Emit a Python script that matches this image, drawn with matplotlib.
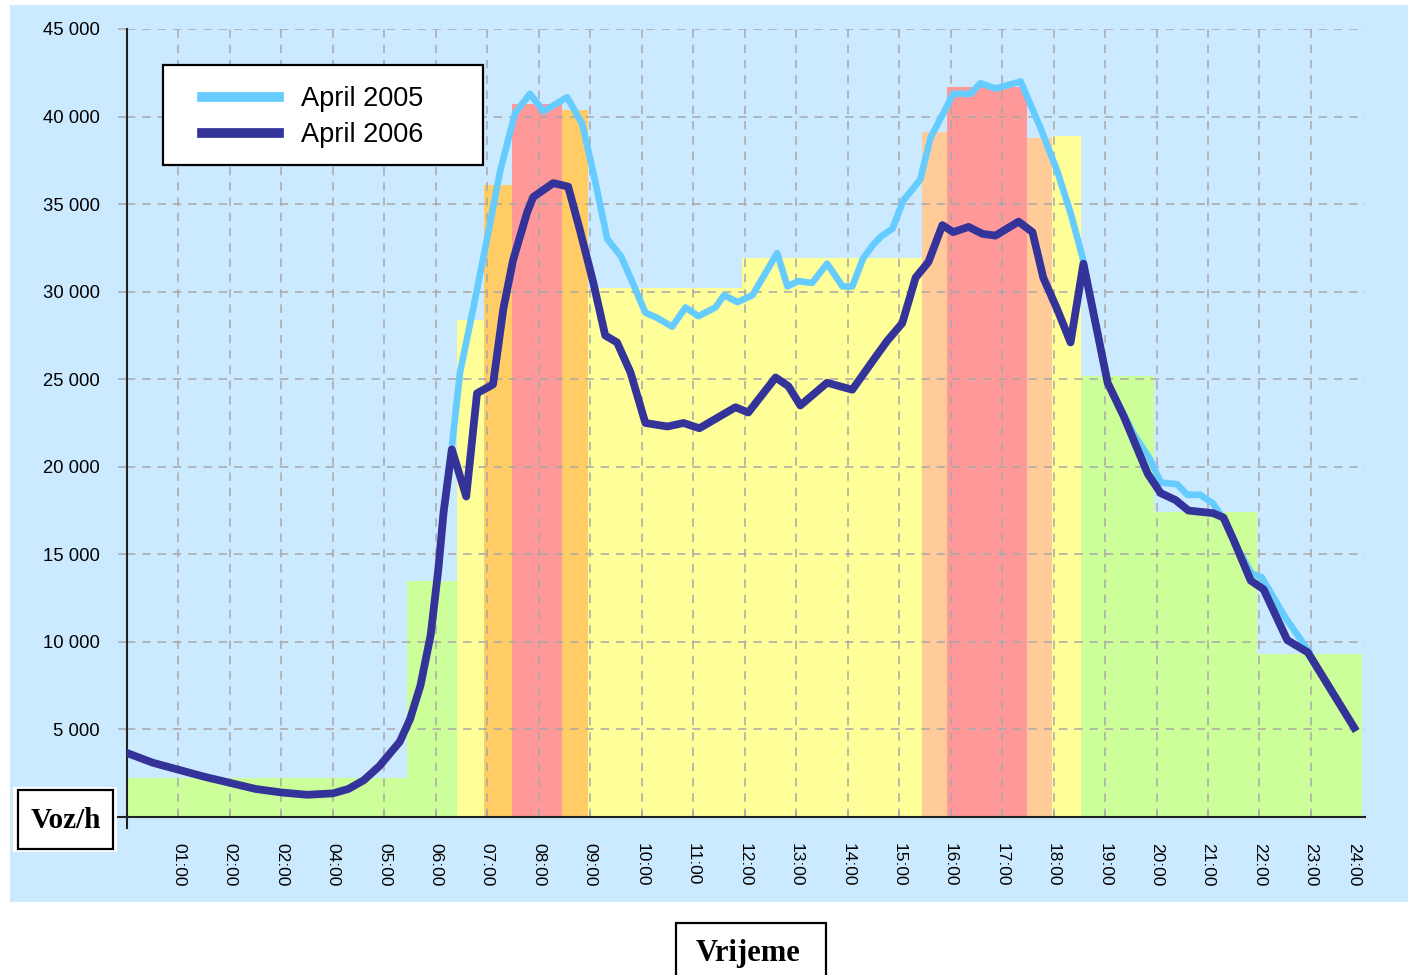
import numpy as np
import matplotlib
matplotlib.use("Agg")
import matplotlib.pyplot as plt
from matplotlib.patches import Rectangle

# traffic bands behind the curves (hours, thousands of vehicles/h)
band_start = [0.0, 5.43, 6.42, 6.93, 7.48, 8.45, 8.96, 11.95, 15.45, 15.93, 17.49, 17.96, 18.54, 19.96, 21.96]
band_end = [5.43, 6.42, 6.93, 7.48, 8.45, 8.96, 11.95, 15.45, 15.93, 17.49, 17.96, 18.54, 19.96, 21.96, 24.0]
band_value = [2.2, 13.5, 28.4, 36.1, 40.7, 40.4, 30.2, 31.9, 39.1, 41.7, 38.8, 38.9, 25.2, 17.4, 9.3]
band_level = ["low", "low", "mid", "high_am", "peak", "high_am", "mid", "mid",
              "high_pm", "peak", "high_pm", "mid", "low", "low", "low"]

# April 2006
t_2006 = [0.05, 0.5, 1.0, 1.5, 2.0, 2.5, 3.0, 3.5, 4.0, 4.3, 4.6, 4.9, 5.1, 5.3, 5.5, 5.7, 5.9,
          6.05, 6.15, 6.31, 6.59, 6.8, 7.11, 7.31, 7.5, 7.77, 7.89, 8.28, 8.57, 8.8, 9.06, 9.29,
          9.52, 9.78, 10.07, 10.5, 10.81, 11.12, 11.47, 11.82, 12.07, 12.6, 12.85, 13.08, 13.6,
          14.09, 14.5, 14.77, 15.06, 15.32, 15.57, 15.84, 16.05, 16.35, 16.62, 16.87, 17.32,
          17.59, 17.8, 18.07, 18.33, 18.58, 19.05, 19.36, 19.83, 20.08, 20.37, 20.62, 21.1,
          21.3, 21.5, 21.83, 22.08, 22.54, 22.94, 23.84]
v_2006 = [3.6, 3.1, 2.7, 2.3, 1.95, 1.6, 1.4, 1.27, 1.35, 1.6, 2.1, 2.9, 3.6, 4.3, 5.6, 7.5, 10.4,
          14.2, 17.4, 21.0, 18.3, 24.2, 24.7, 29.0, 31.8, 34.5, 35.4, 36.2, 36.0, 33.5, 30.5, 27.5,
          27.1, 25.4, 22.5, 22.3, 22.5, 22.2, 22.8, 23.4, 23.1, 25.1, 24.6, 23.5, 24.8,
          24.4, 26.1, 27.2, 28.2, 30.8, 31.7, 33.8, 33.4, 33.7, 33.3, 33.2, 34.0,
          33.4, 30.8, 29.0, 27.1, 31.6, 24.8, 22.9, 19.6, 18.5, 18.1, 17.5, 17.35,
          17.1, 15.8, 13.5, 13.0, 10.1, 9.4, 5.1]

# April 2005
t_2005 = [6.32, 6.47, 6.73, 7.0, 7.25, 7.54, 7.83, 8.09, 8.55, 8.84, 9.06, 9.33, 9.6, 9.78, 10.07,
          10.3, 10.59, 10.85, 11.1, 11.43, 11.6, 11.86, 12.15, 12.63, 12.83, 13.04, 13.31, 13.6,
          13.9, 14.09, 14.3, 14.5, 14.67, 14.87, 15.08, 15.41, 15.61, 15.86, 16.05, 16.39, 16.58,
          16.87, 17.36, 17.49, 17.74, 18.07, 18.33, 18.56, 19.05, 19.55, 19.88, 20.08, 20.4,
          20.6, 20.85, 21.1, 21.35, 21.6, 21.85, 22.04, 22.5, 22.95]
v_2005 = [21.4, 25.4, 29.1, 33.1, 36.9, 40.2, 41.3, 40.3, 41.1, 39.6, 36.8, 33.0, 32.0, 30.8, 28.8,
          28.5, 28.0, 29.1, 28.6, 29.1, 29.8, 29.4, 29.8, 32.2, 30.3, 30.6, 30.5, 31.6,
          30.3, 30.3, 31.9, 32.7, 33.2, 33.6, 35.2, 36.4, 38.8, 40.2, 41.3, 41.3, 41.9,
          41.6, 42.0, 41.1, 39.4, 36.9, 34.5, 32.0, 24.8, 21.9, 20.4, 19.1, 19.0,
          18.4, 18.4, 17.9, 16.8, 15.2, 13.9, 13.7, 11.4, 9.5]

hour_labels = ["01:00", "02:00", "02:00", "04:00", "05:00", "06:00", "07:00", "08:00",
               "09:00", "10:00", "11:00", "12:00", "13:00", "14:00", "15:00", "16:00",
               "17:00", "18:00", "19:00", "20:00", "21:00", "22:00", "23:00"]
y_ticks = [5000, 10000, 15000, 20000, 25000, 30000, 35000, 40000, 45000]

level_colours = {"low": "#ccff99", "mid": "#ffff99", "high_am": "#ffcc66",
                 "high_pm": "#ffcc99", "peak": "#ff9999"}
BG = "#cceaff"
W, H = 1408, 975

fig = plt.figure(figsize=(W / 100, H / 100), dpi=100)
fig.patch.set_facecolor("white")

def fig_rect(x0, y0, x1, y1, **kw):
    # pixel box (top-left origin) -> figure rectangle
    r = Rectangle((x0 / W, 1 - y1 / H), (x1 - x0) / W, (y1 - y0) / H,
                  transform=fig.transFigure, **kw)
    fig.add_artist(r)
    return r

fig_rect(10, 5, W, 902, facecolor=BG, edgecolor="none", zorder=-10)

ax = fig.add_axes([127 / W, 1 - 817 / H, (1365 - 127) / W, (817 - 29) / H])
ax.set_facecolor("none")
ax.set_xlim(0, 24.05)
ax.set_ylim(0, 45000)

widths = np.array(band_end) - np.array(band_start)
ax.bar(band_start, np.array(band_value) * 1000, width=widths, align="edge",
       color=[level_colours[l] for l in band_level], linewidth=0, zorder=1)

ax.plot(t_2005, np.array(v_2005) * 1000, color="#66ccff", lw=4.8,
        solid_joinstyle="round", label="April 2005", zorder=3)
ax.plot(t_2006, np.array(v_2006) * 1000, color="#333399", lw=5.6,
        solid_joinstyle="round", label="April 2006", zorder=3.1)

# axes, ticks, grid
ax.set_yticks(y_ticks)
ax.set_yticklabels([f"{v:,}".replace(",", " ") for v in y_ticks])
ax.set_xticks(range(1, 24))
ax.set_xticklabels(hour_labels)
ax.set_xticks([23.83], minor=True)
ax.set_xticklabels(["24:00"], minor=True)
ax.grid(True, which="major", color="#a8a8a8", linestyle=(0, (5.5, 4.5)), linewidth=1.1)

for lab in ax.get_yticklabels():
    lab.set_fontfamily("Liberation Sans")
    lab.set_fontsize(13.3)
for lab in ax.get_xticklabels(which="both"):
    lab.set_fontfamily("Liberation Sans")
    lab.set_fontsize(12.5)
    lab.set_rotation(-90)

ax.tick_params(axis="y", direction="out", length=6.5, width=1.1, color="#a8a8a8", pad=13)
ax.tick_params(axis="x", which="major", direction="in", length=4, width=1.1, color="#a8a8a8", pad=19)
ax.tick_params(axis="x", which="minor", length=0, pad=19)

for s in ["top", "right"]:
    ax.spines[s].set_visible(False)
for s in ["left", "bottom"]:
    ax.spines[s].set_linewidth(1.5)
    ax.spines[s].set_color("#222222")
ax.spines["left"].set_bounds(-600, 45000)
ax.spines["bottom"].set_bounds(-0.17, 24.05)

# legend
ax.add_patch(Rectangle(((163 - 127) / 1238, (817 - 165) / 788), 320 / 1238, 100 / 788,
                       transform=ax.transAxes, facecolor="white", edgecolor="black",
                       lw=1.6, zorder=4, clip_on=False))
leg = ax.legend(loc="upper left", bbox_to_anchor=((202 - 127) / 1238, (817 - 86) / 788),
                frameon=False, prop=dict(family="Liberation Sans", size=19.5),
                handlelength=2.85, handletextpad=0.8, borderpad=0, borderaxespad=0,
                labelspacing=0.38)
leg.set_zorder(5)
for h in leg.legend_handles:
    h.set_linewidth(7)

# axis title boxes
fig_rect(13, 787, 117, 852, facecolor="white", edgecolor="none", zorder=5)
fig_rect(18, 790, 113, 849, facecolor="white", edgecolor="black", lw=1.6, zorder=6)
fig.text(65.5 / W, 1 - 821 / H, "Voz/h", family="Liberation Serif", weight="bold",
         size=21, ha="center", va="center", zorder=7)

fig_rect(676, 923, 826, 990, facecolor="white", edgecolor="black", lw=1.6, zorder=6)
fig.text(748 / W, 1 - 953 / H, "Vrijeme", family="Liberation Serif", weight="bold",
         size=22, ha="center", va="center", zorder=7)

fig.savefig("out.png", dpi=100)
